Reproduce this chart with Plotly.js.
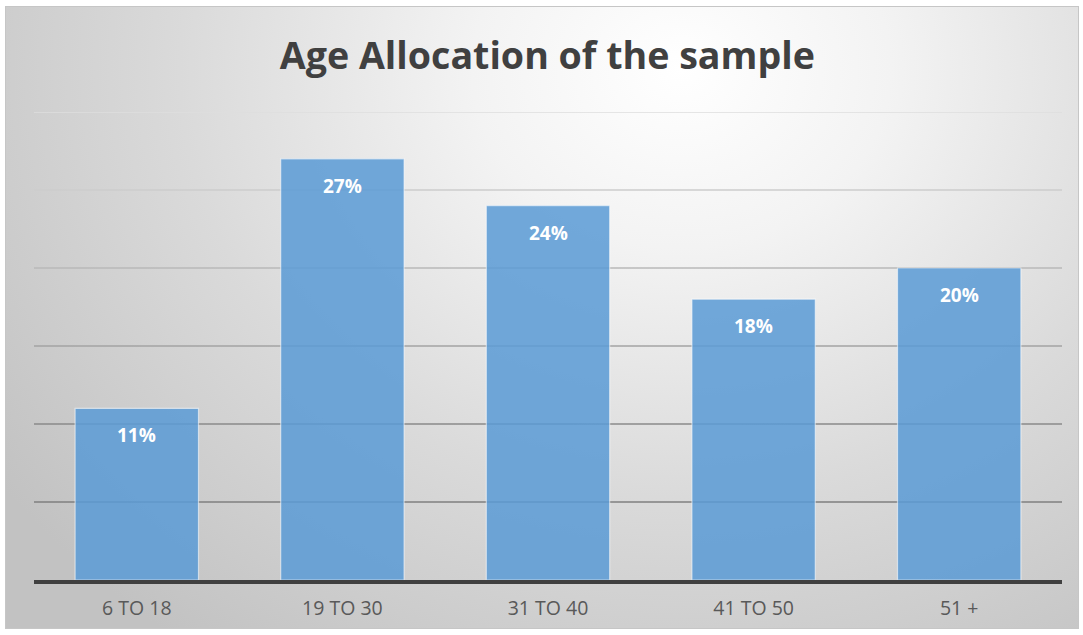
<!DOCTYPE html>
<html>
<head>
<meta charset="utf-8">
<script src="https://cdn.plot.ly/plotly-3.0.1.min.js"></script>
<style>
  html, body { margin: 0; padding: 0; background: #ffffff; width: 1083px; height: 635px; overflow: hidden; }
  #chart {
    position: absolute; left: 5px; top: 6px;
    width: 1072px; height: 621px;
    border: 1px solid #c6c6c6;
    background: radial-gradient(ellipse 78% 115% at 63% 10%, #ffffff 0%, #f3f3f3 25%, #dadada 60%, #c2c2c2 100%);
  }
</style>
</head>
<body>
<div id="chart"></div>
<script>
const categories = ["6 TO 18", "19 TO 30", "31 TO 40", "41 TO 50", "51 +"];
const values = [11, 27, 24, 18, 20];
const labels = ["11%", "27%", "24%", "18%", "20%"];
const gridValues = [5, 10, 15, 20, 25, 30];
const gridColors = ["#7f7f7f", "#8a8a8a", "#a3a3a3", "#b8b8b8", "#cdcdcd", "#dedede"];

const trace = {
  type: "bar",
  x: categories,
  y: values,
  marker: {
    color: "rgba(91,155,213,0.86)",
    line: { color: "rgba(255,255,255,0.55)", width: 1.2 }
  },
  hoverinfo: "skip"
};

const shapes = gridValues.map((v, i) => ({
  type: "line", xref: "paper", yref: "y",
  x0: 0, x1: 1, y0: v, y1: v,
  line: { color: gridColors[i], width: 1.5 },
  layer: "below"
}));

const annotations = categories.map((c, i) => ({
  x: c, y: values[i], xref: "x", yref: "y",
  text: "<b>" + labels[i] + "</b>",
  showarrow: false,
  yanchor: "middle",
  yshift: -27,
  font: { family: "'Open Sans', Lato, sans-serif", size: 19, color: "#ffffff" }
}));

const layout = {
  width: 1072, height: 621,
  margin: { l: 28, r: 16, t: 105, b: 48, pad: 0 },
  paper_bgcolor: "rgba(0,0,0,0)",
  plot_bgcolor: "rgba(0,0,0,0)",
  title: {
    text: "<b>Age Allocation of the sample</b>",
    font: { family: "'Open Sans', Lato, sans-serif", size: 37.6, color: "#404040" },
    x: 0.505, xanchor: "center", xref: "container",
    y: 1 - 49 / 621, yanchor: "middle", yref: "container"
  },
  bargap: 0.4,
  showlegend: false,
  xaxis: {
    type: "category",
    showgrid: false,
    showline: true, linecolor: "#404040", linewidth: 3.5,
    ticks: "", ticklen: 0,
    ticklabelstandoff: 8,
    tickfont: { family: "'Open Sans', Lato, sans-serif", size: 19.5, color: "#595959" },
    fixedrange: true
  },
  yaxis: {
    range: [0, 30],
    showgrid: false, zeroline: false, showline: false,
    showticklabels: false, ticks: "",
    fixedrange: true
  },
  shapes: shapes,
  annotations: annotations
};

Plotly.newPlot("chart", [trace], layout, { displayModeBar: false, staticPlot: true });
</script>
</body>
</html>
